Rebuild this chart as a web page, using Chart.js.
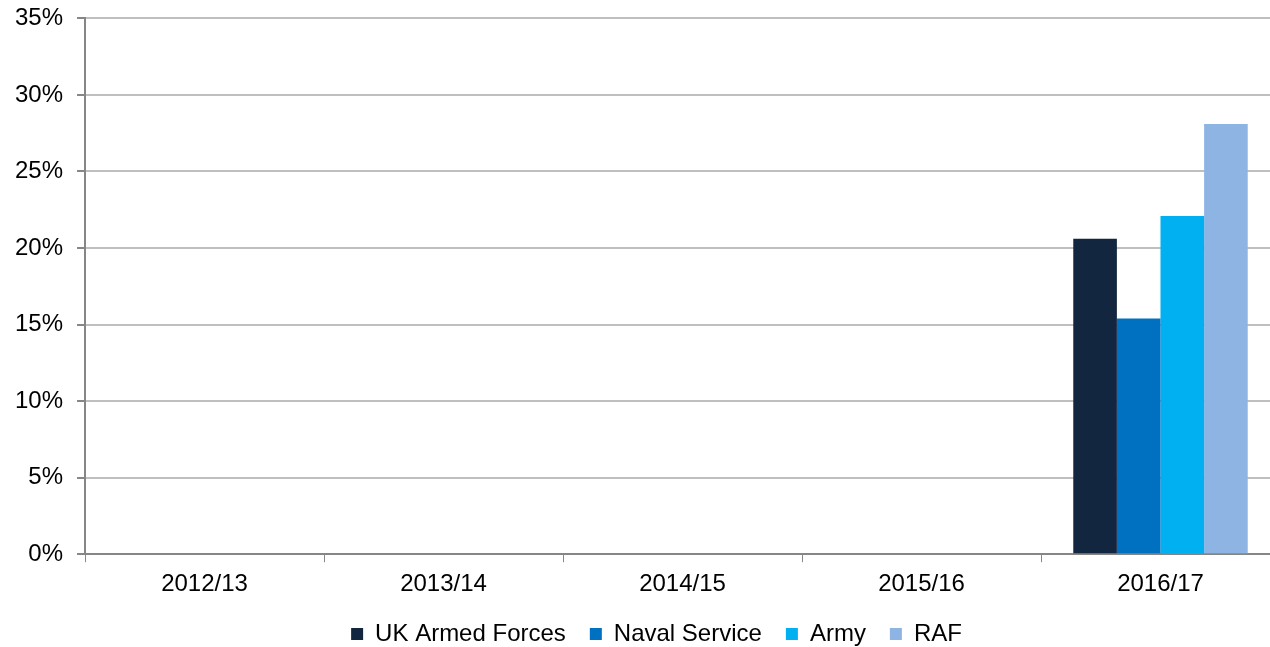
<!DOCTYPE html>
<html>
<head>
<meta charset="utf-8">
<script src="https://cdn.jsdelivr.net/npm/chart.js@4.4.0/dist/chart.umd.min.js"></script>
<style>
html, body { margin: 0; padding: 0; background: #fff; overflow: hidden; }
#wrap { width: 1282px; height: 675px; position: relative; margin-top: -10px; }
</style>
</head>
<body>
<div id="wrap"><canvas id="myChart"></canvas></div>
<script>
// financial years on the x axis
var years = ['2012/13', '2013/14', '2014/15', '2015/16', '2016/17'];
// percentages, only 2016/17 has data
var ukArmedForces = [null, null, null, null, 20.6];
var navalService = [null, null, null, null, 15.4];
var army = [null, null, null, null, 22.1];
var raf = [null, null, null, null, 28.1];
var yTicks = [0, 5, 10, 15, 20, 25, 30, 35];

// pull the legend a little closer to the axis labels and under the plot centre
var legendNudge = {
    id: 'legendNudge',
    afterLayout: function (chart) {
        chart.legend.top -= 9;
        chart.legend.bottom -= 9;
        chart.legend.left += 16;
        chart.legend.right += 16;
    }
};

var ctx = document.getElementById('myChart');
var myChart = new Chart(ctx, {
    type: 'bar',
    data: {
        labels: years,
        datasets: [
            { label: 'UK Armed Forces', data: ukArmedForces, backgroundColor: '#12263f' },
            { label: 'Naval Service', data: navalService, backgroundColor: '#0070c0' },
            { label: 'Army', data: army, backgroundColor: '#00b0f0' },
            { label: 'RAF', data: raf, backgroundColor: '#8eb4e3' }
        ]
    },
    plugins: [legendNudge],
    options: {
        responsive: true,
        maintainAspectRatio: false,
        animation: false,
        layout: { padding: { left: 1, right: 2, top: 6, bottom: 0 } },
        datasets: { bar: { categoryPercentage: 0.73, barPercentage: 1.0 } },
        plugins: {
            tooltip: { enabled: false },
            legend: {
                position: 'bottom',
                labels: {
                    font: { family: 'Liberation Sans', size: 24 },
                    color: '#000',
                    boxWidth: 12,
                    boxHeight: 12,
                    padding: 24
                }
            }
        },
        scales: {
            x: {
                grid: { offset: true, drawOnChartArea: false, drawTicks: true, tickLength: 8, color: '#868686' },
                border: { color: '#868686', width: 2 },
                ticks: { font: { family: 'Liberation Sans', size: 24 }, color: '#000', padding: 8 }
            },
            y: {
                min: 0,
                max: 35,
                afterBuildTicks: function (axis) {
                    axis.ticks = yTicks.map(function (v) { return { value: v }; });
                },
                grid: { color: '#bfbfbf', lineWidth: 2, tickLength: 8, tickColor: '#868686' },
                border: { color: '#868686', width: 2 },
                ticks: {
                    font: { family: 'Liberation Sans', size: 24 },
                    color: '#000',
                    padding: 14,
                    callback: function (v) { return v + '%'; }
                }
            }
        }
    }
});
</script>
</body>
</html>
